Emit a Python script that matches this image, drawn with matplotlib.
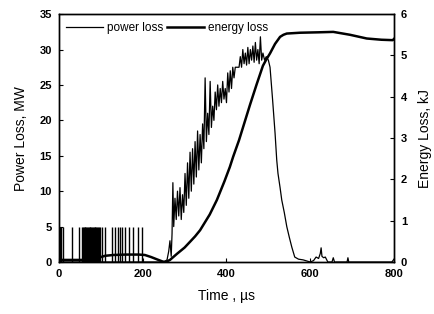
import matplotlib
matplotlib.use("Agg")
import matplotlib.pyplot as plt

plt.rcParams["font.family"] = ["Liberation Sans", "DejaVu Sans"]

# power loss (MW)
t_power = [0, 250, 258, 262, 265, 268, 270, 272, 274, 277,
           280, 283, 286, 289, 292, 295, 298, 301, 304, 307,
           310, 313, 316, 319, 322, 325, 328, 331, 334, 337,
           340, 343, 346, 349, 352, 355, 358, 361, 364, 367,
           370, 373, 376, 379, 382, 385, 388, 391, 394, 397,
           400, 403, 406, 409, 412, 415, 418, 421, 424, 427,
           430, 433, 436, 439, 442, 445, 448, 451, 454, 457,
           460, 463, 466, 469, 472, 475, 478, 481, 484, 487,
           491, 495, 500, 504, 510, 516, 520, 523, 528, 532,
           538, 544, 550, 556, 563, 572, 583, 600, 608, 614,
           620, 624, 626, 628, 632, 636, 642, 652, 655, 658,
           688, 690, 692, 795, 800]
power = [0, 0, 0.3, 1.5, 3.0, 0.8, 4, 11.2, 5, 9,
         6, 10, 6.5, 10.5, 6, 9.5, 7, 12.5, 8, 14,
         9, 15.5, 10, 16, 11, 17, 12, 18.5, 13, 18,
         14, 19.5, 16, 26, 17, 21, 18, 25.5, 19, 22,
         20, 24, 21.5, 25, 22, 24.5, 22.5, 25.5, 23, 24.5,
         22.5, 26.7, 24, 27, 24.5, 27.5, 26, 27.5, 27.5, 27.5,
         27.5, 29, 27.5, 30, 28, 29.5, 27.8, 30.3, 28, 30,
         28.5, 30.5, 28.2, 31, 28.5, 30, 28, 31.8, 28.5, 29.5,
         28.5, 29, 28.5, 27.5, 23, 18.2, 14.4, 12.5, 10.5, 8.75,
         7, 5, 3.5, 2.1, 0.7, 0.4, 0.3, 0, 0.2, 0.7,
         0.5, 1.2, 2.0, 0.8, 0.6, 0.7, 0, 0, 0.6, 0,
         0, 0.6, 0, 0, 0.4]

# early switching spikes (clipped at 5 MW)
spike_t = [2, 5, 9, 30, 48, 55, 57, 59, 61, 63, 65, 67, 69, 71, 73, 75,
           77, 79, 81, 83, 85, 87, 89, 91, 93, 95, 98, 103, 110, 126, 134,
           140, 146, 151, 157, 168, 176, 188, 199]
spike_h = [5] * len(spike_t)

# energy loss (kJ)
t_energy = [0, 60, 90, 100, 110, 130, 160, 190, 205, 220,
            235, 248, 255, 265, 282, 300, 313, 325, 337, 360,
            377, 395, 408, 416, 430, 456, 472, 487, 495, 504,
            516, 528, 536, 544, 576, 620, 655, 695, 735, 770,
            797, 800]
energy = [0.05, 0.05, 0.08, 0.12, 0.15, 0.17, 0.18, 0.18, 0.17, 0.12,
          0.06, 0.01, 0, 0.05, 0.2, 0.35, 0.49, 0.62, 0.77, 1.15,
          1.5, 1.95, 2.3, 2.55, 2.95, 3.8, 4.3, 4.75, 4.9, 5.05,
          5.28, 5.45, 5.5, 5.53, 5.55, 5.56, 5.57, 5.5, 5.41, 5.38,
          5.37, 5.4]

fig = plt.figure(figsize=(4.35, 3.14), dpi=100)
ax = fig.add_axes([0.1356, 0.1656, 0.7701, 0.7894])
ax2 = ax.twinx()

ax.vlines(spike_t, 0, spike_h, color="black", lw=1.0)
l1, = ax.plot(t_power, power, color="black", lw=0.9, label="power loss")
l2, = ax2.plot(t_energy, energy, color="black", lw=1.8, label="energy loss")

ax.set_xlim(0, 800)
ax.set_ylim(0, 35)
ax2.set_ylim(0, 6)
ax.set_xticks([0, 200, 400, 600, 800])
ax.set_yticks([0, 5, 10, 15, 20, 25, 30, 35])
ax2.set_yticks([0, 1, 2, 3, 4, 5, 6])

for a in (ax, ax2):
    a.tick_params(direction="in", length=3, width=0.8, labelsize=8, pad=5)
    for lab in a.get_xticklabels() + a.get_yticklabels():
        lab.set_fontweight("bold")
    for s in a.spines.values():
        s.set_linewidth(1.0)

ax.set_xlabel("Time , \u00b5s", fontsize=10, labelpad=7)
ax.set_ylabel("Power Loss, MW", fontsize=10, labelpad=8)
ax2.set_ylabel("Energy Loss, kJ", fontsize=10, labelpad=8)

leg = ax.legend([l1, l2], ["power loss", "energy loss"], loc="upper left",
                ncol=2, frameon=False, fontsize=8.5, handlelength=3.1,
                handletextpad=0.4, columnspacing=0.3,
                bbox_to_anchor=(0.0, 0.995), borderaxespad=0.2)

fig.savefig("out.png", dpi=100)
